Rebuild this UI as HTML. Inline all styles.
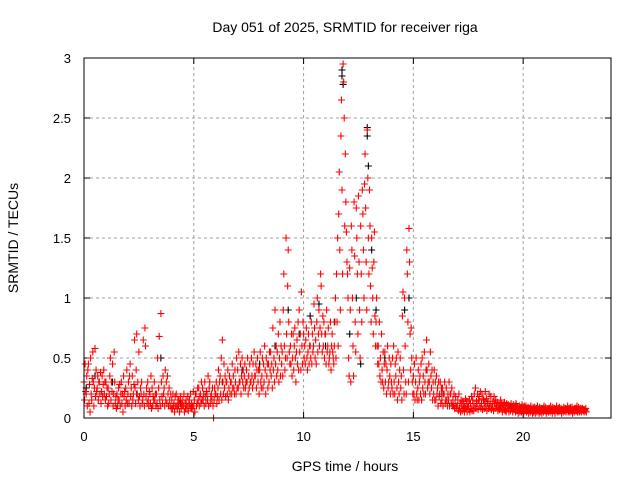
<!DOCTYPE html>
<html><head><meta charset="utf-8"><style>
body{margin:0;background:#fff;}
svg{display:block;font-family:"Liberation Sans",sans-serif;}
</style></head><body>
<svg id="chart" width="640" height="480" viewBox="0 0 640 480" xmlns="http://www.w3.org/2000/svg">
<rect width="640" height="480" fill="#fff"/>
<text x="345" y="32" font-size="14" text-anchor="middle">Day 051 of 2025, SRMTID for receiver riga</text>
<text transform="translate(18,238) rotate(-90)" font-size="14" text-anchor="middle">SRMTID / TECUs</text>
<text x="345" y="471" font-size="14" text-anchor="middle">GPS time / hours</text>
<g id="grid"></g><g id="ticks"></g><g id="blk"></g><g id="red"></g>
<rect x="84" y="58" width="527" height="360" fill="none" stroke="#000" stroke-width="1"/>
</svg>
<script>
const xTicks=[0,5,10,15,20];
const yTicks=[0,0.5,1,1.5,2,2.5,3];
const yTickLabels=["0","0.5","1","1.5","2","2.5","3"];
const redStart=0, redStep=0.1;
const redVals=[
[0.3,0.15,0.45,0.22],[0.2,0.35,0.1,0.4],[0.45,0.12,0.28,0.05],[0.5,0.2,0.15,0.33],[0.55,0.3,0.1,0.25],
[0.58,0.18,0.4,0.22],[0.25,0.35,0.15,0.3],[0.3,0.2,0.38,0.12],[0.22,0.35,0.18,0.28],[0.4,0.2,0.3,0.15],
[0.3,0.18,0.25,0.1],[0.25,0.12,0.2,0.35],[0.5,0.15,0.3,0.22],[0.45,0.1,0.2,0.55],[0.3,0.12,0.18,0.08],
[0.2,0.1,0.15,0.25],[0.15,0.28,0.1,0.2],[0.3,0.12,0.2,0.05],[0.35,0.18,0.22,0.1],[0.25,0.15,0.4,0.12],
[0.2,0.3,0.12,0.35],[0.45,0.18,0.25,0.1],[0.35,0.15,0.2,0.28],[0.65,0.25,0.12,0.4],[0.7,0.2,0.3,0.15],
[0.55,0.18,0.1,0.25],[0.2,0.3,0.12,0.15],[0.65,0.2,0.1,0.75],[0.6,0.18,0.25,0.12],[0.3,0.15,0.1,0.22],
[0.2,0.12,0.35,0.08],[0.25,0.1,0.18,0.15],[0.3,0.15,0.2,0.1],[0.2,0.12,0.5,0.08],[0.25,0.68,0.15,0.1],
[0.87,0.3,0.18,0.12],[0.35,0.2,0.25,0.1],[0.4,0.15,0.3,0.12],[0.35,0.2,0.1,0.25],[0.15,0.1,0.2,0.08],
[0.15,0.08,0.2,0.1],[0.12,0.05,0.18,0.1],[0.2,0.1,0.08,0.15],[0.1,0.15,0.05,0.12],[0.18,0.08,0.12,0.1],
[0.15,0.1,0.2,0.05],[0.12,0.08,0.15,0.1],[0.1,0.18,0.06,0.12],[0.15,0.1,0.2,0.08],[0.12,0.08,0.1,0.22],
[0.1,0.15,0.05,0.2],[0.2,0.1,0.12,0.25],[0.15,0.25,0.1,0.18],[0.2,0.12,0.3,0.15],[0.25,0.15,0.2,0.1],
[0.3,0.18,0.12,0.22],[0.2,0.15,0.35,0.1],[0.25,0.3,0.12,0.18],[0.2,0.15,0.25,0.1],[0.0,0.15,0.25,0.2],
[0.2,0.3,0.12,0.18],[0.25,0.4,0.15,0.3],[0.35,0.2,0.5,0.15],[0.65,0.3,0.2,0.45],[0.25,0.35,0.18,0.3],
[0.3,0.2,0.4,0.15],[0.25,0.35,0.2,0.3],[0.3,0.2,0.45,0.25],[0.35,0.25,0.2,0.4],[0.3,0.2,0.5,0.25],
[0.4,0.25,0.55,0.3],[0.3,0.45,0.2,0.35],[0.5,0.3,0.4,0.25],[0.35,0.45,0.25,0.3],[0.4,0.3,0.5,0.2],
[0.35,0.25,0.45,0.3],[0.3,0.5,0.35,0.25],[0.45,0.3,0.55,0.35],[0.35,0.45,0.25,0.4],[0.5,0.3,0.4,0.2],
[0.4,0.55,0.3,0.25],[0.35,0.5,0.25,0.45],[0.3,0.6,0.4,0.2],[0.5,0.35,0.45,0.25],[0.45,0.3,0.55,0.4],
[0.55,0.35,0.45,0.25],[0.75,0.4,0.5,0.3],[0.9,0.45,0.6,0.35],[0.55,0.4,0.7,0.3],[0.5,0.8,0.35,0.6],
[0.45,0.55,0.35,0.9],[1.2,0.6,0.4,0.5],[1.5,0.7,0.5,1.1],[1.4,0.8,0.55,0.45],[0.6,0.45,0.7,0.35],
[0.5,0.7,0.4,0.6],[0.75,0.5,0.3,0.55],[0.65,0.45,0.8,0.4],[0.9,0.55,0.7,0.4],[1.05,0.6,0.45,0.8],
[0.7,0.5,0.6,0.45],[0.65,0.75,0.5,0.4],[0.55,0.7,0.45,0.6],[0.6,0.5,0.8,0.45],[0.7,0.55,0.6,0.95],
[0.75,0.5,0.65,0.45],[0.8,1.0,0.55,0.7],[0.9,0.6,0.75,1.2],[1.1,0.7,0.55,0.85],[0.6,0.8,0.5,0.7],
[0.7,0.45,0.9,0.55],[0.6,0.75,0.45,0.5],[0.55,0.8,0.4,0.6],[0.7,0.55,0.5,0.45],[0.6,0.8,1.0,0.5],
[1.2,0.8,1.5,0.6],[1.7,2.05,1.4,0.9],[2.35,2.65,1.9,1.2],[2.95,2.8,2.5,1.6],[2.2,1.8,1.55,1.3],
[1.2,1.0,0.5,0.35],[1.25,0.9,0.3,1.6],[1.4,1.0,0.6,0.35],[1.8,1.35,0.8,0.55],[1.75,1.5,1.2,0.7],
[1.85,1.3,0.9,0.5],[1.6,1.2,0.8,1.9],[1.7,1.4,1.0,1.95],[2.2,1.75,1.3,0.9],[2.4,2.0,1.5,1.2],
[1.9,1.6,1.1,0.8],[1.5,1.25,1.0,0.7],[1.3,1.55,0.85,0.6],[0.8,1.0,0.6,0.45],[0.6,0.45,0.8,0.35],
[0.5,0.3,0.7,0.4],[0.3,0.55,0.25,0.45],[0.55,0.3,0.45,0.2],[0.4,0.6,0.25,0.3],[0.5,0.35,0.2,0.45],
[0.3,0.25,0.5,0.2],[0.6,0.3,0.2,0.45],[0.35,0.5,0.25,0.15],[0.55,0.3,0.2,0.4],[0.5,0.25,0.35,0.15],
[0.85,1.05,0.4,0.2],[1.0,0.6,0.3,0.2],[1.4,1.2,0.8,0.3],[1.58,1.3,0.7,0.4],[0.75,0.5,0.3,0.2],
[0.35,0.2,0.45,0.15],[0.3,0.5,0.2,0.15],[0.25,0.4,0.15,0.3],[0.35,0.2,0.45,0.15],[0.5,0.25,0.35,0.2],
[0.55,0.3,0.2,0.4],[0.65,0.4,0.25,0.3],[0.45,0.3,0.2,0.55],[0.35,0.25,0.4,0.15],[0.3,0.2,0.4,0.15],
[0.3,0.15,0.35,0.2],[0.25,0.1,0.3,0.18],[0.2,0.3,0.12,0.25],[0.15,0.25,0.1,0.2],[0.2,0.3,0.12,0.15],
[0.25,0.15,0.1,0.2],[0.15,0.3,0.1,0.2],[0.2,0.12,0.25,0.1],[0.15,0.1,0.2,0.08],[0.12,0.18,0.08,0.1],
[0.1,0.15,0.06,0.2],[0.08,0.12,0.05,0.15],[0.1,0.06,0.14,0.08],[0.12,0.05,0.09,0.16],[0.08,0.14,0.05,0.1],
[0.1,0.07,0.15,0.05],[0.12,0.08,0.18,0.06],[0.15,0.1,0.06,0.2],[0.1,0.25,0.08,0.14],[0.12,0.2,0.07,0.15],
[0.18,0.1,0.22,0.08],[0.12,0.2,0.07,0.16],[0.15,0.08,0.12,0.22],[0.1,0.16,0.06,0.12],[0.14,0.08,0.2,0.1],
[0.12,0.18,0.07,0.1],[0.1,0.14,0.06,0.18],[0.12,0.08,0.15,0.1],[0.1,0.13,0.06,0.08],[0.12,0.07,0.1,0.15],
[0.09,0.12,0.05,0.1],[0.11,0.07,0.13,0.06],[0.1,0.05,0.12,0.08],[0.08,0.11,0.05,0.1],[0.1,0.06,0.12,0.08],
[0.09,0.05,0.11,0.07],[0.08,0.1,0.05,0.12],[0.1,0.06,0.09,0.04],[0.07,0.1,0.05,0.08],[0.09,0.05,0.11,0.06],
[0.08,0.04,0.1,0.06],[0.07,0.1,0.05,0.08],[0.06,0.09,0.04,0.08],[0.08,0.05,0.1,0.06],[0.07,0.04,0.09,0.05],
[0.06,0.09,0.04,0.07],[0.08,0.05,0.1,0.06],[0.07,0.04,0.09,0.05],[0.06,0.08,0.04,0.07],[0.08,0.05,0.1,0.06],
[0.07,0.09,0.04,0.06],[0.06,0.08,0.05,0.07],[0.08,0.05,0.1,0.06],[0.07,0.04,0.09,0.06],[0.06,0.08,0.04,0.07],
[0.07,0.1,0.05,0.06],[0.08,0.05,0.09,0.06],[0.06,0.08,0.04,0.07],[0.07,0.05,0.09,0.06],[0.06,0.08,0.05,0.07],
[0.07,0.1,0.05,0.06],[0.08,0.05,0.09,0.06],[0.06,0.09,0.04,0.07],[0.07,0.05,0.08,0.06],[0.08,0.06,0.1,0.05],
[0.07,0.09,0.05,0.06],[0.06,0.08,0.05,0.07],[0.08,0.06,0.07,0.05],[0.07,0.06,0.08,0.05]
];
const blackTimes=[0.1,0.5,1.3,2.4,3.5,4.4,5.6,6.3,7.2,8.0,8.7,9.3,9.8,10.3,10.7,11.0,11.4,11.75,11.75,11.8,12.1,12.4,12.6,12.9,12.9,12.95,13.1,13.3,13.7,14.6,14.8,15.6,16.3,17.5,18.2,19.5,21.0,22.5];
const blackVals=[0.25,0.35,0.3,0.2,0.5,0.12,0.2,0.3,0.4,0.45,0.6,0.9,0.7,0.85,0.95,0.6,0.8,2.9,2.85,2.78,0.7,1.0,0.45,2.42,2.35,2.1,1.4,0.9,0.5,0.9,1.0,0.4,0.2,0.1,0.15,0.08,0.06,0.07];

const X0=84,X1=611,Y0=418,Y1=58,XMAX=24,YMAX=3;
const xs=v=>X0+(X1-X0)*v/XMAX, ys=v=>Y0-(Y0-Y1)*v/YMAX;
const NS="http://www.w3.org/2000/svg";
function mk(tag,attrs,parent){const e=document.createElementNS(NS,tag);for(const k in attrs)e.setAttribute(k,attrs[k]);parent.appendChild(e);return e;}
const grid=document.getElementById('grid'),ticks=document.getElementById('ticks');
xTicks.forEach(t=>{const x=xs(t);
 if(t>0){const g=mk('line',{x1:x,y1:Y0,x2:x,y2:Y1,stroke:'#a0a0a0','stroke-dasharray':'3,3'},grid);
 
 }
 mk('line',{x1:x,y1:Y0,x2:x,y2:Y0-6,stroke:'#000'},ticks);
 mk('line',{x1:x,y1:Y1,x2:x,y2:Y1+6,stroke:'#000'},ticks);
 const l=mk('text',{x:x,y:Y0+23,'font-size':13,'text-anchor':'middle'},ticks);l.textContent=t;
 
 
});
yTicks.forEach((t,i)=>{const y=ys(t);
 if(t>0&&t<YMAX){const g=mk('line',{x1:X0,y1:y,x2:X1,y2:y,stroke:'#a0a0a0','stroke-dasharray':'3,3'},grid);
 
 }
 mk('line',{x1:X0,y1:y,x2:X0+6,y2:y,stroke:'#000'},ticks);
 mk('line',{x1:X1,y1:y,x2:X1-6,y2:y,stroke:'#000'},ticks);
 const l=mk('text',{x:X0-13,y:y+5,'font-size':13,'text-anchor':'end'},ticks);l.textContent=yTickLabels[i];
 
 
});
function plus(g,t,v,c){const x=xs(t),y=ys(v);
 const p=mk('path',{d:`M${x-3.5},${y}h7M${x},${y-3.5}v7`,stroke:c,'stroke-width':1.1,fill:'none'},g);
 
 }
const blk=document.getElementById('blk'),red=document.getElementById('red');
blackTimes.forEach((t,i)=>plus(blk,t,blackVals[i],'#000'));
redVals.forEach((arr,i)=>{const t=redStart+i*redStep;arr.forEach((v,j)=>plus(red,t+j*0.025,v,'#ff0000'));});
</script>
</body></html>
